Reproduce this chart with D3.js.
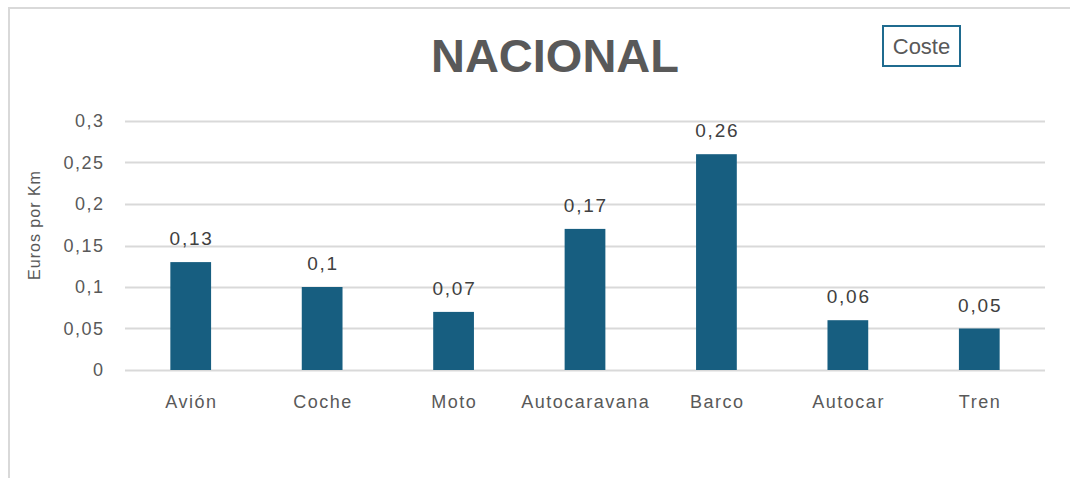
<!DOCTYPE html>
<html>
<head>
<meta charset="utf-8">
<script src="https://cdn.jsdelivr.net/npm/d3@7"></script>
<style>
  body { margin: 0; background: #fff; }
  svg { display: block; font-family: "Liberation Sans", Arial, sans-serif; }
</style>
</head>
<body>
<svg width="1070" height="478"></svg>
<script>
var categories = ["Avión", "Coche", "Moto", "Autocaravana", "Barco", "Autocar", "Tren"];
var coste = [0.13, 0.1, 0.07, 0.17, 0.26, 0.06, 0.05];
var yTicks = [0, 0.05, 0.1, 0.15, 0.2, 0.25, 0.3];

var svg = d3.select("svg"),
  margin = { top: 121, right: 25, bottom: 108, left: 125 },
  width = +svg.attr("width") - margin.left - margin.right,
  height = +svg.attr("height") - margin.top - margin.bottom;

var comma = function(v) { return String(v).replace(".", ","); };

// chart frame (only top and left visible)
svg.append("path")
  .attr("d", "M9,478V8H1070")
  .attr("fill", "none")
  .attr("stroke", "#d9d9d9")
  .attr("stroke-width", 2);

var x = d3.scaleBand().domain(categories).range([0, width]).paddingInner(0.69).paddingOuter(0.345),
  y = d3.scaleLinear().domain([0, 0.3]).range([height, 0]);

var g = svg.append("g")
  .attr("transform", "translate(" + margin.left + "," + margin.top + ")");

// gridlines
g.append("g")
  .selectAll("line")
  .data(yTicks)
  .enter()
  .append("line")
  .attr("x1", 0)
  .attr("x2", width)
  .attr("y1", function(d) { return Math.round(y(d)) + 0.5; })
  .attr("y2", function(d) { return Math.round(y(d)) + 0.5; })
  .attr("stroke", "#d9d9d9")
  .attr("stroke-width", 2);

// y axis
var yAxis = g.append("g")
  .call(d3.axisLeft(y).tickValues(yTicks).tickSize(0).tickPadding(20.5).tickFormat(comma));
yAxis.select(".domain").remove();
yAxis.selectAll("text")
  .attr("fill", "#595959")
  .style("font-size", "18px")
  .style("letter-spacing", "1.5px");

// x axis
var xAxis = g.append("g")
  .attr("transform", "translate(0," + height + ")")
  .call(d3.axisBottom(x).tickSize(0).tickPadding(25));
xAxis.select(".domain").remove();
xAxis.selectAll("text")
  .attr("fill", "#595959")
  .attr("dx", "0.75px")
  .style("font-size", "18px")
  .style("letter-spacing", "1.5px");

// bars
g.selectAll(".bar")
  .data(coste)
  .enter()
  .append("rect")
  .attr("class", "bar")
  .attr("x", function(d, i) { return x(categories[i]); })
  .attr("y", function(d) { return y(d); })
  .attr("width", x.bandwidth())
  .attr("height", function(d) { return height - y(d); })
  .attr("fill", "#175e80");

// data labels
g.selectAll(".lbl")
  .data(coste)
  .enter()
  .append("text")
  .attr("class", "lbl")
  .attr("x", function(d, i) { return x(categories[i]) + x.bandwidth() / 2 + 0.9; })
  .attr("y", function(d) { return y(d) - 17; })
  .attr("text-anchor", "middle")
  .attr("fill", "#404040")
  .style("font-size", "19px")
  .style("letter-spacing", "1.8px")
  .text(function(d) { return comma(d); });

// y axis title
svg.append("text")
  .attr("transform", "translate(40,225) rotate(-90)")
  .attr("text-anchor", "middle")
  .attr("fill", "#595959")
  .style("font-size", "16px")
  .style("letter-spacing", "1px")
  .text("Euros por Km");

// title
svg.append("text")
  .attr("x", 555)
  .attr("y", 72)
  .attr("text-anchor", "middle")
  .attr("fill", "#595959")
  .style("font-size", "47px")
  .style("font-weight", "bold")
  .text("NACIONAL");

// legend
var legend = svg.append("g");
legend.append("rect")
  .attr("x", 883)
  .attr("y", 26)
  .attr("width", 77)
  .attr("height", 40)
  .attr("fill", "#fff")
  .attr("stroke", "#1f6b8f")
  .attr("stroke-width", 2);
legend.append("text")
  .attr("x", 921.5)
  .attr("y", 54)
  .attr("text-anchor", "middle")
  .attr("fill", "#595959")
  .style("font-size", "22px")
  .text("Coste");
</script>
</body>
</html>
